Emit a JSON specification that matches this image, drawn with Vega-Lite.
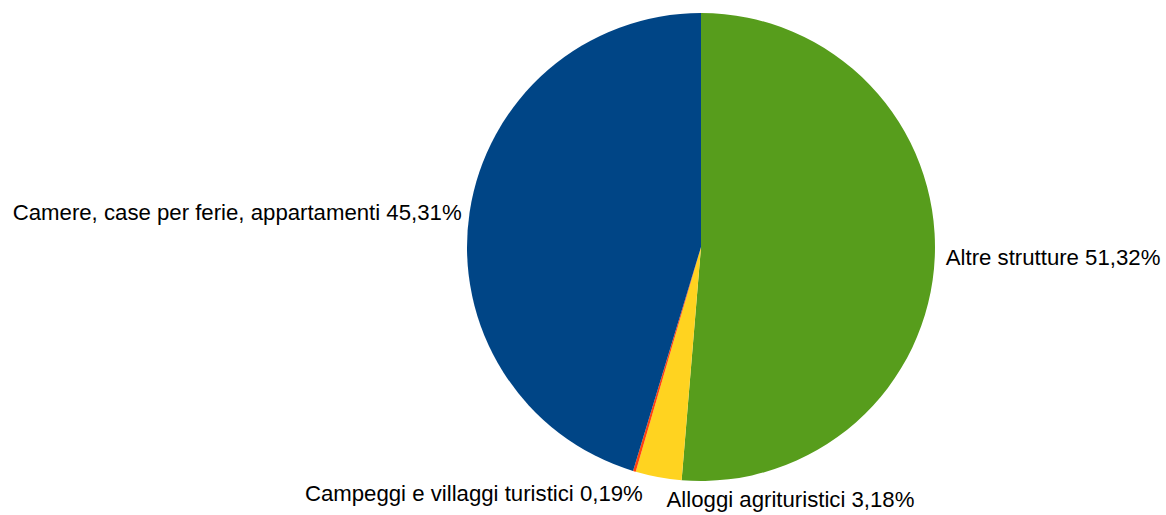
{
  "$schema": "https://vega.github.io/schema/vega-lite/v6.json",
  "width": 468,
  "height": 468,
  "autosize": "none",
  "padding": {"left": 467, "top": 13, "right": 231, "bottom": 34},
  "background": "white",
  "config": {"view": {"stroke": null}, "text": {"font": "Liberation Sans", "fontSize": 22.2, "fill": "#000000"}},
  "data": {"values": [
    {"ord": 1, "categoria": "Altre strutture", "quota": 51.32, "etichetta": "Altre strutture 51,32%"},
    {"ord": 2, "categoria": "Alloggi agrituristici", "quota": 3.18, "etichetta": "Alloggi agrituristici 3,18%"},
    {"ord": 3, "categoria": "Campeggi e villaggi turistici", "quota": 0.19, "etichetta": "Campeggi e villaggi turistici 0,19%"},
    {"ord": 4, "categoria": "Camere, case per ferie, appartamenti", "quota": 45.31, "etichetta": "Camere, case per ferie, appartamenti 45,31%"}
  ]},
  "encoding": {
    "theta": {"field": "quota", "type": "quantitative", "stack": true},
    "order": {"field": "ord", "type": "quantitative"}
  },
  "layer": [
    {
      "mark": {"type": "arc"},
      "encoding": {
        "color": {
          "field": "categoria", "type": "nominal", "legend": null,
          "scale": {
            "domain": ["Altre strutture", "Alloggi agrituristici", "Campeggi e villaggi turistici", "Camere, case per ferie, appartamenti"],
            "range": ["#579D1C", "#FFD320", "#FF420E", "#004586"]
          }
        }
      }
    },
    {
      "mark": {"type": "text", "radius": 245, "align": "left", "baseline": "middle", "dy": 1},
      "encoding": {"text": {"condition": {"test": "datum.ord === 1", "field": "etichetta"}, "value": ""}}
    },
    {
      "mark": {"type": "text", "radius": 242, "align": "right", "baseline": "middle", "dy": 2},
      "encoding": {"text": {"condition": {"test": "datum.ord === 4", "field": "etichetta"}, "value": ""}}
    },
    {
      "mark": {"type": "text", "radius": 250, "align": "left", "baseline": "middle", "dx": 11, "dy": 7},
      "encoding": {"text": {"condition": {"test": "datum.ord === 2", "field": "etichetta"}, "value": ""}}
    },
    {
      "mark": {"type": "text", "radius": 250, "align": "right", "baseline": "middle", "dx": 13, "dy": 7},
      "encoding": {"text": {"condition": {"test": "datum.ord === 3", "field": "etichetta"}, "value": ""}}
    }
  ]
}
